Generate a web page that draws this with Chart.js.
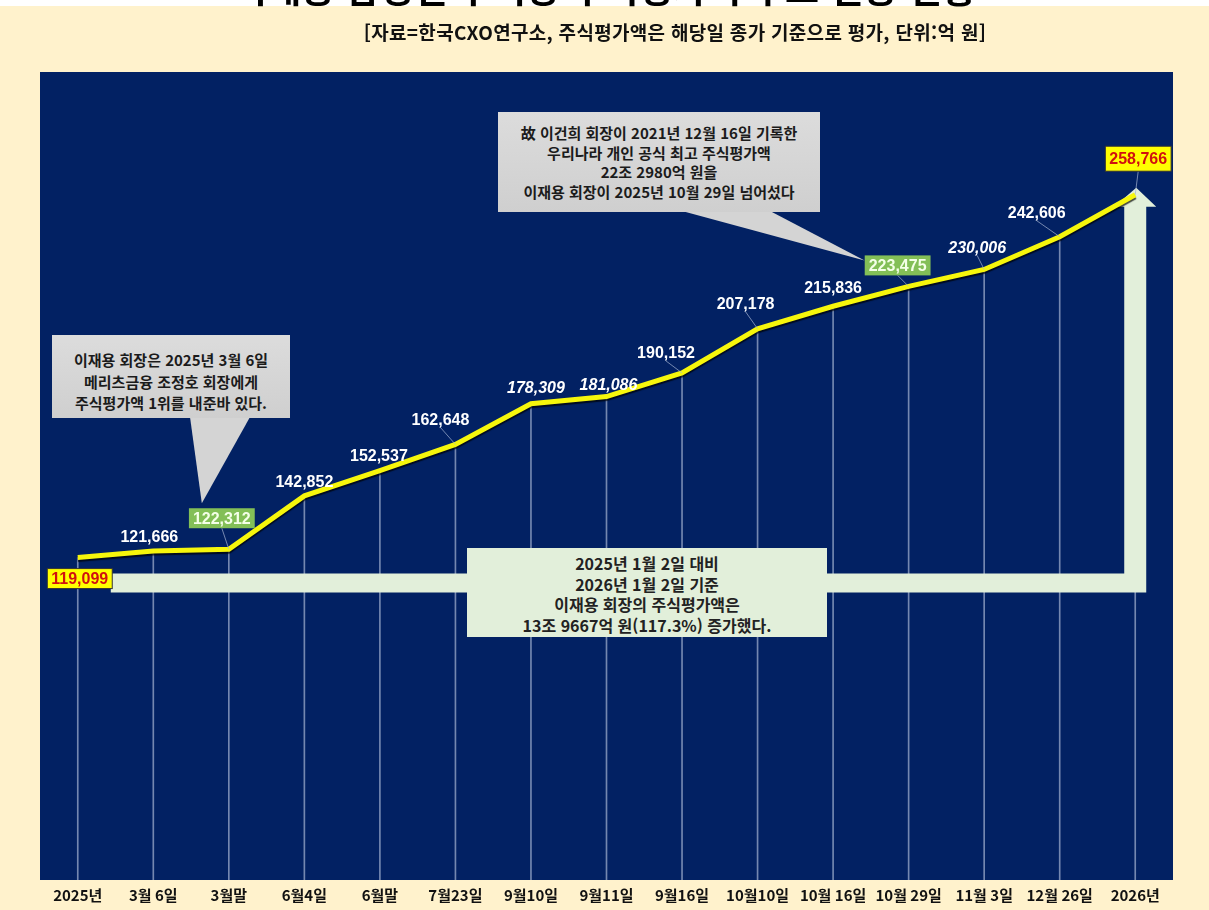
<!DOCTYPE html>
<html lang="ko">
<head>
<meta charset="utf-8">
<title>이재용 회장 주식평가액 변동</title>
<script src="https://cdn.jsdelivr.net/npm/chart.js@4.4.1/dist/chart.umd.min.js"></script>
<style>
html, body { margin: 0; padding: 0; background: #fff2cc; overflow: hidden; }
#page { position: relative; width: 1209px; height: 910px; overflow: hidden; background: #fff2cc; }
#topEdge { position: absolute; left: 0; top: 0; width: 1209px; height: 6px; background: #fff; }
#title { position: absolute; left: 0; top: -33px; width: 1209px; text-align: center; font: 700 37px "Noto Sans CJK KR"; line-height: 40px; color: #000; }
#sub { position: absolute; left: 300px; top: 18px; width: 750px; text-align: center; font: 700 19px "Noto Sans CJK KR"; letter-spacing: 0.3px; line-height: 28px; color: #111; }
#wrap { position: absolute; left: 0; top: 0; width: 1209px; height: 910px; }
.note { position: absolute; box-sizing: border-box; text-align: center; font-family: "Noto Sans CJK KR"; font-weight: 700; color: #1b1b1b; white-space: nowrap; }
#note1 { left: 498px; top: 112px; width: 322px; height: 100px; padding-top: 11px; font-size: 15px; line-height: 19.5px; background: linear-gradient(#dcdcdc, #cfcfcf); }
#note2 { left: 52px; top: 335px; width: 238px; height: 83px; padding-top: 14px; font-size: 15px; line-height: 21.5px; background: linear-gradient(#dcdcdc, #cfcfcf); }
#note3 { left: 467px; top: 548px; width: 360px; height: 89px; padding-top: 5px; font-size: 16px; line-height: 20.7px; background: #e2efda; color: #222; }
</style>
</head>
<body>
<div id="page">
  <div id="topEdge"></div>
  <div id="wrap"><canvas id="chart"></canvas></div>
  <div id="title">이재용 삼성전자 회장 주식평가액 주요 변동 현황</div>
  <div id="sub">[자료=한국CXO연구소, 주식평가액은 해당일 종가 기준으로 평가, 단위:억 원]</div>
  <div class="note" id="note1">故 이건희 회장이 2021년 12월 16일 기록한<br>우리나라 개인 공식 최고 주식평가액<br>22조 2980억 원을<br>이재용 회장이 2025년 10월 29일 넘어섰다</div>
  <div class="note" id="note2">이재용 회장은 2025년 3월 6일<br>메리츠금융 조정호 회장에게<br>주식평가액 1위를 내준바 있다.</div>
  <div class="note" id="note3">2025년 1월 2일 대비<br>2026년 1월 2일 기준<br>이재용 회장의 주식평가액은<br>13조 9667억 원(117.3%) 증가했다.</div>
</div>
<script>
var categories = ['2025년', '3월 6일', '3월말', '6월4일', '6월말', '7월23일', '9월10일', '9월11일',
    '9월16일', '10월10일', '10월 16일', '10월 29일', '11월 3일', '12월 26일', '2026년'];
var values = [119099, 121666, 122312, 142852, 152537, 162648, 178309, 181086,
    190152, 207178, 215836, 223475, 230006, 242606, 258766];
var yMin = -5000;
var yMax = 306000;

// label placement relative to each point, and look
var labelDx = [2, -4, -7, 0, -1, -15, 5, 2, -16, -12, 0, -11, -7, -23, 3];
var labelDy = [21, -14, -31, -14, -15, -25, -16, -12, -20, -25, -19, -21, -22, -24, -36];
var labelKind = ['yellow', 'plain', 'green', 'plain', 'plain', 'plain', 'italic', 'italic',
    'plain', 'plain', 'plain', 'green', 'italic', 'plain', 'yellow'];

var navy = '#022163';
var dropColor = 'rgba(165,180,210,0.7)';
var arrowColor = '#e2efda';
var calloutColor = '#d4d4d4';
var fmt = function (v) { return Number(v).toLocaleString('en-US'); };

var bgPlugin = {
    id: 'navyBg',
    beforeDraw: function (chart) {
        var a = chart.chartArea, ctx = chart.ctx;
        ctx.save();
        ctx.fillStyle = navy;
        ctx.fillRect(a.left, a.top, a.right - a.left, a.bottom - a.top);
        ctx.restore();
    }
};

var overlayPlugin = {
    id: 'overlay',
    beforeDatasetDraw: function (chart, args) {
        if (args.index !== 0) return;
        var ctx = chart.ctx;
        ctx.save();
        ctx.shadowColor = 'rgba(0,0,0,0.7)';
        ctx.shadowOffsetY = 2;
        ctx.shadowBlur = 1;
    },
    afterDatasetDraw: function (chart, args) {
        var ctx = chart.ctx;
        if (args.index === 0) { ctx.restore(); return; }
        if (args.index !== 1) return;
        // L-shaped arrow from the start value to the end value
        var pts = chart.getDatasetMeta(0).data;
        var p0 = pts[0], pN = pts[pts.length - 1];
        var top = p0.y + 16, bot = p0.y + 35;
        var sx1 = pN.x - 11, sx2 = pN.x + 11, headY = pN.y + 12;
        ctx.save();
        ctx.fillStyle = arrowColor;
        ctx.beginPath();
        ctx.moveTo(p0.x + 33, top);
        ctx.lineTo(sx1, top);
        ctx.lineTo(sx1, headY);
        ctx.lineTo(pN.x - 21, headY);
        ctx.lineTo(pN.x + 1, pN.y - 7);
        ctx.lineTo(pN.x + 21, headY);
        ctx.lineTo(sx2, headY);
        ctx.lineTo(sx2, bot);
        ctx.lineTo(p0.x + 33, bot);
        ctx.closePath();
        ctx.fill();
        ctx.restore();
    },
    afterDatasetsDraw: function (chart) {
        var ctx = chart.ctx;
        var pts = chart.getDatasetMeta(0).data;
        ctx.save();
        ctx.textAlign = 'center';
        ctx.textBaseline = 'middle';
        pts.forEach(function (p, i) {
            var kind = labelKind[i];
            var cx = p.x + labelDx[i], cy = p.y + labelDy[i];
            var text = fmt(values[i]);
            ctx.font = (kind === 'italic' ? 'italic ' : '') + 'bold 16px "Liberation Sans", Arial, sans-serif';
            var w = ctx.measureText(text).width;
            var boxH = (i === pts.length - 1) ? 25 : 20;
            var boxed = kind === 'yellow' || kind === 'green';
            var lowEdge = cy + (boxed ? boxH / 2 : 8);
            if (labelDy[i] < -19) {
                ctx.strokeStyle = dropColor;
                ctx.lineWidth = 1;
                ctx.beginPath();
                ctx.moveTo(cx, lowEdge);
                ctx.lineTo(p.x, p.y);
                ctx.stroke();
            }
            if (boxed) {
                ctx.fillStyle = kind === 'yellow' ? '#ffff00' : '#83bf57';
                ctx.fillRect(cx - w / 2 - 4, cy - boxH / 2, w + 8, boxH);
                if (kind === 'yellow') {
                    ctx.strokeStyle = '#333';
                    ctx.lineWidth = 1;
                    ctx.strokeRect(cx - w / 2 - 4, cy - boxH / 2, w + 8, boxH);
                }
                ctx.fillStyle = kind === 'yellow' ? '#d01010' : '#f4ffe8';
            } else {
                ctx.fillStyle = '#ffffff';
            }
            ctx.fillText(text, cx, cy + 1);
        });
        ctx.restore();
    },
    afterDraw: function (chart) {
        // callout tails pointing at the two highlighted values
        var ctx = chart.ctx;
        var pts = chart.getDatasetMeta(0).data;
        var a = pts[2], b = pts[11];
        ctx.save();
        ctx.fillStyle = calloutColor;
        ctx.beginPath();
        ctx.moveTo(190, 417);
        ctx.lineTo(250, 417);
        ctx.lineTo(a.x - 27, a.y - 46);
        ctx.closePath();
        ctx.fill();
        ctx.beginPath();
        ctx.moveTo(682, 211);
        ctx.lineTo(770, 211);
        ctx.lineTo(b.x - 44, b.y - 26);
        ctx.closePath();
        ctx.fill();
        ctx.restore();
    }
};

new Chart(document.getElementById('chart'), {
    type: 'line',
    data: {
        labels: categories,
        datasets: [
            {
                label: '주식평가액',
                data: values,
                borderColor: '#f6f60c',
                borderWidth: 5,
                pointRadius: 0,
                tension: 0,
                fill: false,
                order: 1
            },
            {
                type: 'bar',
                label: 'drop',
                data: values.map(function (v) { return [yMin, v]; }),
                backgroundColor: dropColor,
                barThickness: 1,
                order: 2
            }
        ]
    },
    options: {
        responsive: true,
        maintainAspectRatio: false,
        animation: false,
        layout: { padding: { left: 40, right: 36, top: 72, bottom: 0 } },
        plugins: {
            legend: { display: false },
            tooltip: { enabled: false }
        },
        scales: {
            x: {
                offset: true,
                grid: { display: false, drawTicks: false },
                border: { display: false },
                ticks: {
                    color: '#111',
                    padding: 6,
                    maxRotation: 0,
                    autoSkip: false,
                    font: { family: '"Noto Sans CJK KR"', size: 15, weight: 'bold' }
                }
            },
            y: {
                display: false,
                min: yMin,
                max: yMax
            }
        }
    },
    plugins: [bgPlugin, overlayPlugin]
});
</script>
</body>
</html>
